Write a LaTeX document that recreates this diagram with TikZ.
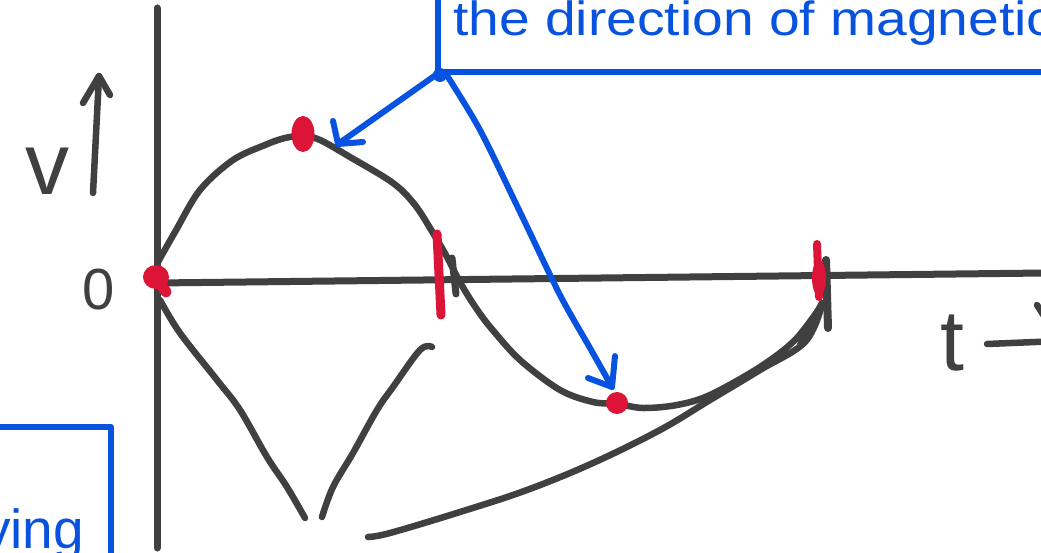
\documentclass[tikz,border=0pt]{standalone}
\usepackage{fontspec}
\setmainfont{Liberation Sans}
\newfontfamily\notefont[FakeStretch=1.15]{Liberation Sans}
\definecolor{ink}{HTML}{404040}
\definecolor{redmark}{HTML}{DC1438}
\definecolor{notecol}{HTML}{0852E0}
\tikzset{
  pen/.style={draw=ink, line width=6.5pt, line cap=round, line join=round},
  axisline/.style={draw=ink, line width=7pt, line cap=round},
  bluepen/.style={draw=notecol, line width=6pt, line cap=round, line join=round},
  hand/.style={text=ink, inner sep=0pt, anchor=base},
}
\begin{document}
\begin{tikzpicture}[x=1pt, y=-1pt]
\useasboundingbox (0,0) rectangle (1041,553);
\clip (0,0) rectangle (1041,553);
\fill[white] (0,0) rectangle (1041,553);

% axes
\draw[axisline] (157,8) -- (157,548);
\draw[axisline] (157,283) -- (1045,273);

% sine curve
\draw[pen] plot[smooth, tension=0.55] coordinates {(158,262) (175,232) (200,190) (233,160) (265,145) (285,138) (303,136) (320,140) (350,157) (393,183) (415,205) (433,233) (447,257) (461,284) (476,308) (491,328) (520,360) (560,390) (593,402) (618,404) (643,408) (677,405) (710,395) (760,367) (795,340) (821,306)};

% V shape
\draw[pen] plot[smooth, tension=0.6] coordinates {(160,300) (180,333) (217,380) (240,410) (267,457) (287,487) (305,518)};
\draw[pen] plot[smooth, tension=0.6] coordinates {(322,517) (333,487) (353,453) (377,410) (393,387) (420,350) (432,347)};

% bottom sweeping curve
\draw[pen] plot[smooth, tension=0.6] coordinates {(368,537) (390,533) (460,512) (527,490) (593,463) (660,430) (710,400) (760,370) (805,342) (822,305)};

% arrow head strokes at the end
\draw[pen, line width=8pt] (826,260) -- (828,328);
\draw[pen] (800,345) -- (822,303);
% overdrawn tick
\draw[pen, line width=7pt] (452,258) -- (456,294);

% red marks
\fill[redmark] (156,277) ellipse [x radius=13, y radius=12];
\draw[redmark, line width=11pt, line cap=round] (158,280) -- (166,292);
\fill[redmark] (303,134) ellipse [x radius=11.5, y radius=18];
\draw[redmark, line width=9pt, line cap=round] (437,234) -- (441,315);
\draw[redmark, line width=8pt, line cap=round] (817,244) -- (819,297);
\fill[redmark] (819,278) ellipse [x radius=7, y radius=18];
\fill[redmark] (617,403) circle [radius=11];

% hand labels
\node[hand, font=\fontsize{88}{88}\selectfont] (vlab) at (47,195) {v};
\node[hand, font=\fontsize{58}{58}\selectfont] (olab) at (99,309) {0};
\node[hand, font=\fontsize{86}{86}\selectfont] (tlab) at (952,370) {t};
\draw[pen] (93,193) -- (99,76);
\draw[pen] (83,103) -- (99,76) -- (110,95);
\draw[pen] (987,344) -- (1060,341);
\draw[pen] (1037,305) -- (1060,341);

% blue note boxes
\draw[bluepen, line cap=butt] (438,-5) -- (438,72) -- (1050,72);
\node[text=notecol, inner sep=0pt, anchor=base west, font=\notefont\fontsize{48}{48}\selectfont] (topnote) at (453,36) {the direction of magnetic};
\draw[bluepen, line cap=butt] (-10,427) -- (111,427) -- (111,560);
\node[text=notecol, inner sep=0pt, anchor=base west, font=\fontsize{55}{55}\selectfont] (botnote) at (-17,548) {ying};

% blue arrows
\fill[notecol] (440,75) circle [radius=7];
\draw[bluepen] (440,72) -- (338,144);
\draw[bluepen] (333,121) -- (338,144) -- (363,142);
\draw[bluepen] plot[smooth, tension=0.5] coordinates {(446,74) (480,130) (520,212) (560,295) (590,348) (612,387)};
\draw[bluepen] (615,356) -- (612,387) -- (588,378);
\end{tikzpicture}
\end{document}
